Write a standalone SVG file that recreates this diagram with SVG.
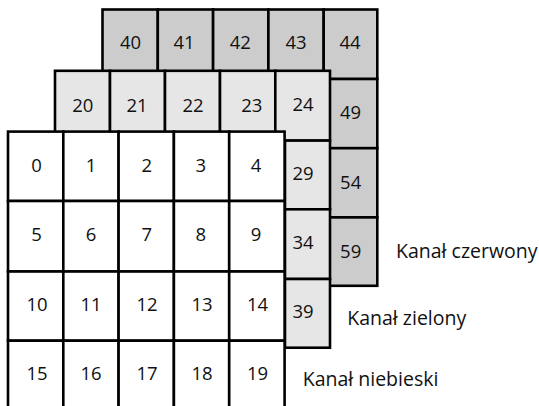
<svg xmlns="http://www.w3.org/2000/svg" width="539" height="406" viewBox="0 0 539 406">
<style>
.c{stroke:#000;stroke-width:2.6;stroke-linejoin:miter}
.r{fill:#cccccc}
.g{fill:#e6e6e6}
.b{fill:#ffffff}
text{font-family:"Open Sans","Noto Sans",sans-serif;font-size:18.5px;fill:#111}
.m{text-anchor:middle}
.l{font-size:19.5px}
</style>
<rect width="539" height="406" fill="#fff"/>
<g id="kanal-czerwony">
<rect class="c r" x="102.5" y="9.5" width="55.3" height="69.5"/>
<rect class="c r" x="157.8" y="9.5" width="55.3" height="69.5"/>
<rect class="c r" x="213.1" y="9.5" width="55.3" height="69.5"/>
<rect class="c r" x="268.4" y="9.5" width="55.3" height="69.5"/>
<rect class="c r" x="323.7" y="9.5" width="53.6" height="69.5"/>
<rect class="c r" x="323.7" y="79" width="53.6" height="69.2"/>
<rect class="c r" x="323.7" y="148.2" width="53.6" height="69.2"/>
<rect class="c r" x="323.7" y="217.4" width="53.6" height="68.4"/>
<text class="m" x="130.5" y="49">40</text>
<text class="m" x="184" y="49">41</text>
<text class="m" x="240.3" y="49">42</text>
<text class="m" x="296" y="49">43</text>
<text class="m" x="350" y="49">44</text>
<text class="m" x="350.5" y="118.5">49</text>
<text class="m" x="350.7" y="188.5">54</text>
<text class="m" x="350.7" y="257.7">59</text>
</g>
<g id="kanal-zielony">
<rect class="c g" x="55" y="70.8" width="55" height="69.8"/>
<rect class="c g" x="110" y="70.8" width="55" height="69.8"/>
<rect class="c g" x="165" y="70.8" width="55" height="69.8"/>
<rect class="c g" x="220" y="70.8" width="55.3" height="69.8"/>
<rect class="c g" x="275.3" y="70.8" width="54.7" height="69.8"/>
<rect class="c g" x="285" y="140.6" width="45" height="68.7"/>
<rect class="c g" x="285" y="209.3" width="45" height="69.7"/>
<rect class="c g" x="285" y="279" width="45" height="68.7"/>
<text class="m" x="82.8" y="111.7">20</text>
<text class="m" x="137" y="111.7">21</text>
<text class="m" x="193" y="111.7">22</text>
<text class="m" x="251.8" y="111.7">23</text>
<text class="m" x="303" y="111">24</text>
<text class="m" x="303" y="180">29</text>
<text class="m" x="303" y="249">34</text>
<text class="m" x="303" y="317.7">39</text>
</g>
<g id="kanal-niebieski">
<rect class="c b" x="8" y="131.6" width="55.3" height="69.4"/>
<rect class="c b" x="63.3" y="131.6" width="55.3" height="69.4"/>
<rect class="c b" x="118.6" y="131.6" width="55.3" height="69.4"/>
<rect class="c b" x="173.9" y="131.6" width="55.3" height="69.4"/>
<rect class="c b" x="229.2" y="131.6" width="55.4" height="69.4"/>
<rect class="c b" x="8" y="201" width="55.3" height="70.5"/>
<rect class="c b" x="63.3" y="201" width="55.3" height="70.5"/>
<rect class="c b" x="118.6" y="201" width="55.3" height="70.5"/>
<rect class="c b" x="173.9" y="201" width="55.3" height="70.5"/>
<rect class="c b" x="229.2" y="201" width="55.4" height="70.5"/>
<rect class="c b" x="8" y="271.5" width="55.3" height="69.2"/>
<rect class="c b" x="63.3" y="271.5" width="55.3" height="69.2"/>
<rect class="c b" x="118.6" y="271.5" width="55.3" height="69.2"/>
<rect class="c b" x="173.9" y="271.5" width="55.3" height="69.2"/>
<rect class="c b" x="229.2" y="271.5" width="55.4" height="69.2"/>
<rect class="c b" x="8" y="340.7" width="55.3" height="70"/>
<rect class="c b" x="63.3" y="340.7" width="55.3" height="70"/>
<rect class="c b" x="118.6" y="340.7" width="55.3" height="70"/>
<rect class="c b" x="173.9" y="340.7" width="55.3" height="70"/>
<rect class="c b" x="229.2" y="340.7" width="55.4" height="70"/>
<text class="m" x="36.5" y="171.7">0</text>
<text class="m" x="91" y="171.7">1</text>
<text class="m" x="146.7" y="171.7">2</text>
<text class="m" x="200.8" y="171.7">3</text>
<text class="m" x="256" y="171.7">4</text>
<text class="m" x="36.5" y="241">5</text>
<text class="m" x="91" y="241">6</text>
<text class="m" x="146.7" y="241">7</text>
<text class="m" x="200.8" y="241">8</text>
<text class="m" x="256" y="241">9</text>
<text class="m" x="37" y="310.7">10</text>
<text class="m" x="91" y="310.7">11</text>
<text class="m" x="147" y="310.7">12</text>
<text class="m" x="202" y="310.7">13</text>
<text class="m" x="257.5" y="310.7">14</text>
<text class="m" x="37" y="380">15</text>
<text class="m" x="91" y="380">16</text>
<text class="m" x="147" y="380">17</text>
<text class="m" x="202" y="380">18</text>
<text class="m" x="257.5" y="380">19</text>
</g>
<g id="labels">
<text class="l" x="396" y="258.3">Kanał czerwony</text>
<text class="l" x="347.3" y="325">Kanał zielony</text>
<text class="l" x="302.7" y="386">Kanał niebieski</text>
</g>
</svg>
